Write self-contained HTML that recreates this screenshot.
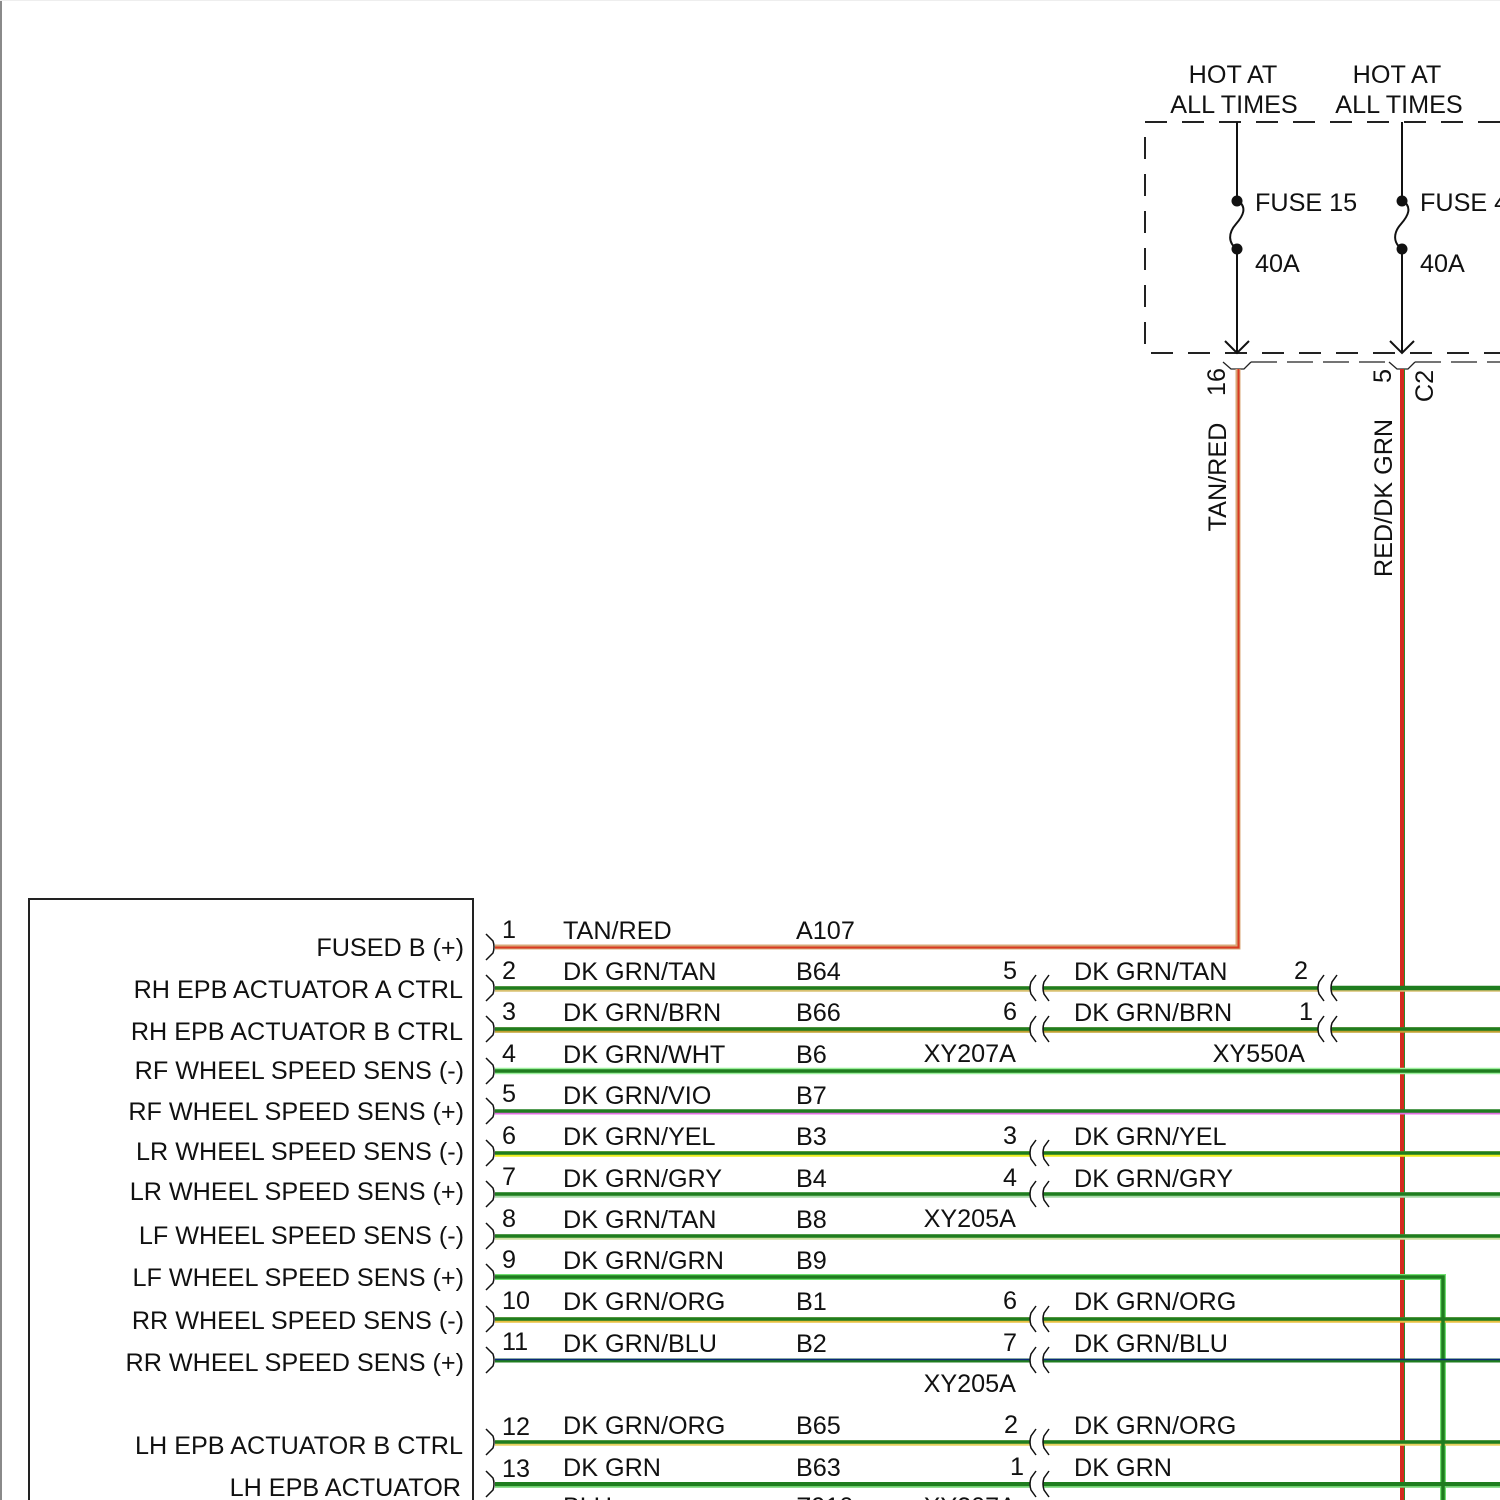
<!DOCTYPE html>
<html>
<head>
<meta charset="utf-8">
<style>
html,body{margin:0;padding:0;background:#fff;width:1500px;height:1500px;overflow:hidden;}
svg{display:block;}
text{font-family:"Liberation Sans",Arial,sans-serif;font-size:25.2px;fill:#111;}
</style>
</head>
<body>
<svg width="1500" height="1500" viewBox="0 0 1500 1500" xmlns="http://www.w3.org/2000/svg">
<rect x="0" y="0" width="1500" height="1500" fill="#fff"/>
<line x1="1" y1="0" x2="1" y2="1500" stroke="#8a8a8a" stroke-width="2"/>
<line x1="0" y1="0.5" x2="1500" y2="0.5" stroke="#eee" stroke-width="1"/>

<!-- Fuse box dashed -->
<path d="M1500,122 H1145 V353 H1500" fill="none" stroke="#222" stroke-width="2" stroke-dasharray="22 15"/>

<!-- HOT AT labels -->
<text x="1233" y="83" text-anchor="middle">HOT AT</text>
<text x="1234" y="113" text-anchor="middle">ALL TIMES</text>
<text x="1397" y="83" text-anchor="middle">HOT AT</text>
<text x="1399" y="113" text-anchor="middle">ALL TIMES</text>

<!-- Fuses -->
<g stroke="#111" stroke-width="2" fill="none">
<line x1="1237" y1="122" x2="1237" y2="200"/>
<path d="M1237,200 C1248,207 1243,216 1236,224 C1228,233 1228,243 1237,249"/>
<line x1="1237" y1="249" x2="1237" y2="353"/>
<path d="M1225,341 L1237,353 L1249,341"/>
<line x1="1402" y1="122" x2="1402" y2="200"/>
<path d="M1402,200 C1413,207 1408,216 1401,224 C1393,233 1393,243 1402,249"/>
<line x1="1402" y1="249" x2="1402" y2="353"/>
<path d="M1390,341 L1402,353 L1414,341"/>
</g>
<circle cx="1237" cy="201" r="5.5" fill="#111"/>
<circle cx="1237" cy="249" r="5.5" fill="#111"/>
<circle cx="1402" cy="201" r="5.5" fill="#111"/>
<circle cx="1402" cy="249" r="5.5" fill="#111"/>
<text x="1255" y="211">FUSE 15</text>
<text x="1255" y="272">40A</text>
<text x="1420" y="211">FUSE 4</text>
<text x="1420" y="272">40A</text>

<!-- C2 connector -->
<g stroke="#222" stroke-width="1.3" fill="none">
<path d="M1223,362 L1231,369 L1244,369 L1251,362"/>
<path d="M1389,362 L1397,369 L1408,369 L1415,362"/>
<line x1="1251" y1="362" x2="1389" y2="362" stroke-dasharray="26 10"/>
<line x1="1415" y1="362" x2="1500" y2="362" stroke-dasharray="26 10"/>
</g>
<text transform="translate(1225,382) rotate(-90)" text-anchor="middle">16</text>
<text transform="translate(1391,376) rotate(-90)" text-anchor="middle">5</text>
<text transform="translate(1433,386) rotate(-90)" text-anchor="middle">C2</text>
<text transform="translate(1226,477) rotate(-90)" text-anchor="middle">TAN/RED</text>
<text transform="translate(1392,498) rotate(-90)" text-anchor="middle">RED/DK GRN</text>

<!-- Module box -->
<path d="M29,1500 V899 H473 V1500" fill="none" stroke="#222" stroke-width="2"/>
<g text-anchor="end">
<text x="464" y="956">FUSED B (+)</text>
<text x="463" y="998">RH EPB ACTUATOR A CTRL</text>
<text x="463" y="1040">RH EPB ACTUATOR B CTRL</text>
<text x="464" y="1079">RF WHEEL SPEED SENS (-)</text>
<text x="464" y="1120">RF WHEEL SPEED SENS (+)</text>
<text x="464" y="1160">LR WHEEL SPEED SENS (-)</text>
<text x="464" y="1200">LR WHEEL SPEED SENS (+)</text>
<text x="464" y="1244">LF WHEEL SPEED SENS (-)</text>
<text x="464" y="1286">LF WHEEL SPEED SENS (+)</text>
<text x="464" y="1329">RR WHEEL SPEED SENS (-)</text>
<text x="464" y="1371">RR WHEEL SPEED SENS (+)</text>
<text x="463" y="1454">LH EPB ACTUATOR B CTRL</text>
<text x="461" y="1496">LH EPB ACTUATOR</text>
</g>

<!-- Red vertical wire RED/DK GRN -->
<line x1="1402" y1="369" x2="1402" y2="1500" stroke="#d42a1e" stroke-width="4"/>
<line x1="1404.5" y1="369" x2="1404.5" y2="1500" stroke="#2a8a2a" stroke-width="1"/>

<!-- Row 1 TAN/RED -->
<path d="M495,947 H1238 V369" fill="none" stroke="#d8a878" stroke-width="5"/>
<path d="M495,947.5 H1238.5 V369" fill="none" stroke="#d93a22" stroke-width="2"/>

<!-- Green wires: stripe underlay then green -->
<g fill="none" stroke-width="5.5">
<path d="M495,989 H1030 M1043,989 H1318 M1331,989 H1500" stroke="#d8c070"/>
<path d="M495,1030 H1030 M1043,1030 H1318 M1331,1030 H1500" stroke="#c0a030"/>
<path d="M495,1071 H1500" stroke="#9cf09c" stroke-width="6.5"/>
<path d="M495,1112.5 H1500" stroke="#e070e0" stroke-width="4"/>
<path d="M495,1154 H1030 M1043,1154 H1500" stroke="#eeee20"/>
<path d="M495,1195 H1030 M1043,1195 H1500" stroke="#a8d8a8"/>
<path d="M495,1237 H1500" stroke="#cde0a0"/>
<path d="M495,1277 H1443 V1500" stroke="#70e070" stroke-width="6"/>
<path d="M495,1320 H1030 M1043,1320 H1500" stroke="#e8c040"/>
<path d="M495,1443 H1030 M1043,1443 H1500" stroke="#e8d060"/>
<path d="M495,1485 H1030 M1043,1485 H1500" stroke="#70d070"/>
</g>
<g fill="none" stroke="#1f7d1f" stroke-width="3.5">
<path d="M495,988 H1030 M1043,988 H1318 M1331,988 H1500"/>
<path d="M1331,988 H1500" stroke-width="4.5"/>
<path d="M495,1029 H1030 M1043,1029 H1318 M1331,1029 H1500"/>
<path d="M495,1071 H1500"/>
<path d="M495,1111 H1500"/>
<path d="M495,1153 H1030 M1043,1153 H1500"/>
<path d="M495,1194 H1030 M1043,1194 H1500"/>
<path d="M495,1236 H1500"/>
<path d="M495,1277 H1443 V1500"/>
<path d="M495,1319 H1030 M1043,1319 H1500"/>
<path d="M495,1360.5 H1030 M1043,1360.5 H1500" stroke-width="4"/>
<path d="M495,1442 H1030 M1043,1442 H1500"/>
<path d="M495,1484 H1030 M1043,1484 H1500" stroke-width="4"/>
</g>
<path d="M495,1359.5 H1030 M1043,1359.5 H1500" fill="none" stroke="#0a2a7a" stroke-width="1.6"/>

<!-- Left brackets ) -->
<g fill="none" stroke="#111" stroke-width="1.5">
<path d="M486,934 L493,941 Q495,947 493,953 L486,960"/>
<path d="M486,975 L493,982 Q495,988 493,994 L486,1001"/>
<path d="M486,1016 L493,1023 Q495,1029 493,1035 L486,1042"/>
<path d="M486,1058 L493,1065 Q495,1071 493,1077 L486,1084"/>
<path d="M486,1098 L493,1105 Q495,1111 493,1117 L486,1124"/>
<path d="M486,1140 L493,1147 Q495,1153 493,1159 L486,1166"/>
<path d="M486,1181 L493,1188 Q495,1194 493,1200 L486,1207"/>
<path d="M486,1223 L493,1230 Q495,1236 493,1242 L486,1249"/>
<path d="M486,1264 L493,1271 Q495,1277 493,1283 L486,1290"/>
<path d="M486,1306 L493,1313 Q495,1319 493,1325 L486,1332"/>
<path d="M486,1347 L493,1354 Q495,1360 493,1366 L486,1373"/>
<path d="M486,1429 L493,1436 Q495,1442 493,1448 L486,1455"/>
<path d="M486,1471 L493,1478 Q495,1484 493,1490 L486,1497"/>
</g>

<!-- (( connectors -->
<g fill="none" stroke="#111" stroke-width="1.5">
<path d="M1036,975 L1031,982 Q1029,988 1031,994 L1036,1001 M1049,975 L1044,982 Q1042,988 1044,994 L1049,1001"/>
<path d="M1036,1016 L1031,1023 Q1029,1029 1031,1035 L1036,1042 M1049,1016 L1044,1023 Q1042,1029 1044,1035 L1049,1042"/>
<path d="M1036,1140 L1031,1147 Q1029,1153 1031,1159 L1036,1166 M1049,1140 L1044,1147 Q1042,1153 1044,1159 L1049,1166"/>
<path d="M1036,1181 L1031,1188 Q1029,1194 1031,1200 L1036,1207 M1049,1181 L1044,1188 Q1042,1194 1044,1200 L1049,1207"/>
<path d="M1036,1306 L1031,1313 Q1029,1319 1031,1325 L1036,1332 M1049,1306 L1044,1313 Q1042,1319 1044,1325 L1049,1332"/>
<path d="M1036,1347 L1031,1354 Q1029,1360 1031,1366 L1036,1373 M1049,1347 L1044,1354 Q1042,1360 1044,1366 L1049,1373"/>
<path d="M1036,1429 L1031,1436 Q1029,1442 1031,1448 L1036,1455 M1049,1429 L1044,1436 Q1042,1442 1044,1448 L1049,1455"/>
<path d="M1036,1471 L1031,1478 Q1029,1484 1031,1490 L1036,1497 M1049,1471 L1044,1478 Q1042,1484 1044,1490 L1049,1497"/>
<path d="M1324,975 L1319,982 Q1317,988 1319,994 L1324,1001 M1337,975 L1332,982 Q1330,988 1332,994 L1337,1001"/>
<path d="M1324,1016 L1319,1023 Q1317,1029 1319,1035 L1324,1042 M1337,1016 L1332,1023 Q1330,1029 1332,1035 L1337,1042"/>
</g>

<!-- Row labels -->
<g>
<text x="502" y="938">1</text><text x="563" y="939">TAN/RED</text><text x="796" y="939">A107</text>

<text x="502" y="979">2</text><text x="563" y="980">DK GRN/TAN</text><text x="796" y="980">B64</text>
<text x="1017" y="979" text-anchor="end">5</text><text x="1074" y="980">DK GRN/TAN</text><text x="1308" y="979" text-anchor="end">2</text>

<text x="502" y="1020">3</text><text x="563" y="1021">DK GRN/BRN</text><text x="796" y="1021">B66</text>
<text x="1017" y="1020" text-anchor="end">6</text><text x="1074" y="1021">DK GRN/BRN</text><text x="1313" y="1020" text-anchor="end">1</text>

<text x="502" y="1062">4</text><text x="563" y="1063">DK GRN/WHT</text><text x="796" y="1063">B6</text>
<text x="1016" y="1062" text-anchor="end">XY207A</text><text x="1305" y="1062" text-anchor="end">XY550A</text>

<text x="502" y="1102">5</text><text x="563" y="1104">DK GRN/VIO</text><text x="796" y="1104">B7</text>

<text x="502" y="1144">6</text><text x="563" y="1145">DK GRN/YEL</text><text x="796" y="1145">B3</text>
<text x="1017" y="1144" text-anchor="end">3</text><text x="1074" y="1145">DK GRN/YEL</text>

<text x="502" y="1185">7</text><text x="563" y="1187">DK GRN/GRY</text><text x="796" y="1187">B4</text>
<text x="1017" y="1186" text-anchor="end">4</text><text x="1074" y="1187">DK GRN/GRY</text>

<text x="502" y="1227">8</text><text x="563" y="1228">DK GRN/TAN</text><text x="796" y="1228">B8</text>
<text x="1016" y="1227" text-anchor="end">XY205A</text>

<text x="502" y="1268">9</text><text x="563" y="1269">DK GRN/GRN</text><text x="796" y="1269">B9</text>

<text x="502" y="1309">10</text><text x="563" y="1310">DK GRN/ORG</text><text x="796" y="1310">B1</text>
<text x="1017" y="1309" text-anchor="end">6</text><text x="1074" y="1310">DK GRN/ORG</text>

<text x="502" y="1350">11</text><text x="563" y="1352">DK GRN/BLU</text><text x="796" y="1352">B2</text>
<text x="1017" y="1351" text-anchor="end">7</text><text x="1074" y="1352">DK GRN/BLU</text>
<text x="1016" y="1392" text-anchor="end">XY205A</text>

<text x="502" y="1435">12</text><text x="563" y="1434">DK GRN/ORG</text><text x="796" y="1434">B65</text>
<text x="1018" y="1433" text-anchor="end">2</text><text x="1074" y="1434">DK GRN/ORG</text>

<text x="502" y="1477">13</text><text x="563" y="1476">DK GRN</text><text x="796" y="1476">B63</text>
<text x="1024" y="1475" text-anchor="end">1</text><text x="1074" y="1476">DK GRN</text>

<text x="563" y="1515">BLU</text><text x="796" y="1515">Z910</text><text x="1016" y="1515" text-anchor="end">XY207A</text>
</g>
</svg>
</body>
</html>
